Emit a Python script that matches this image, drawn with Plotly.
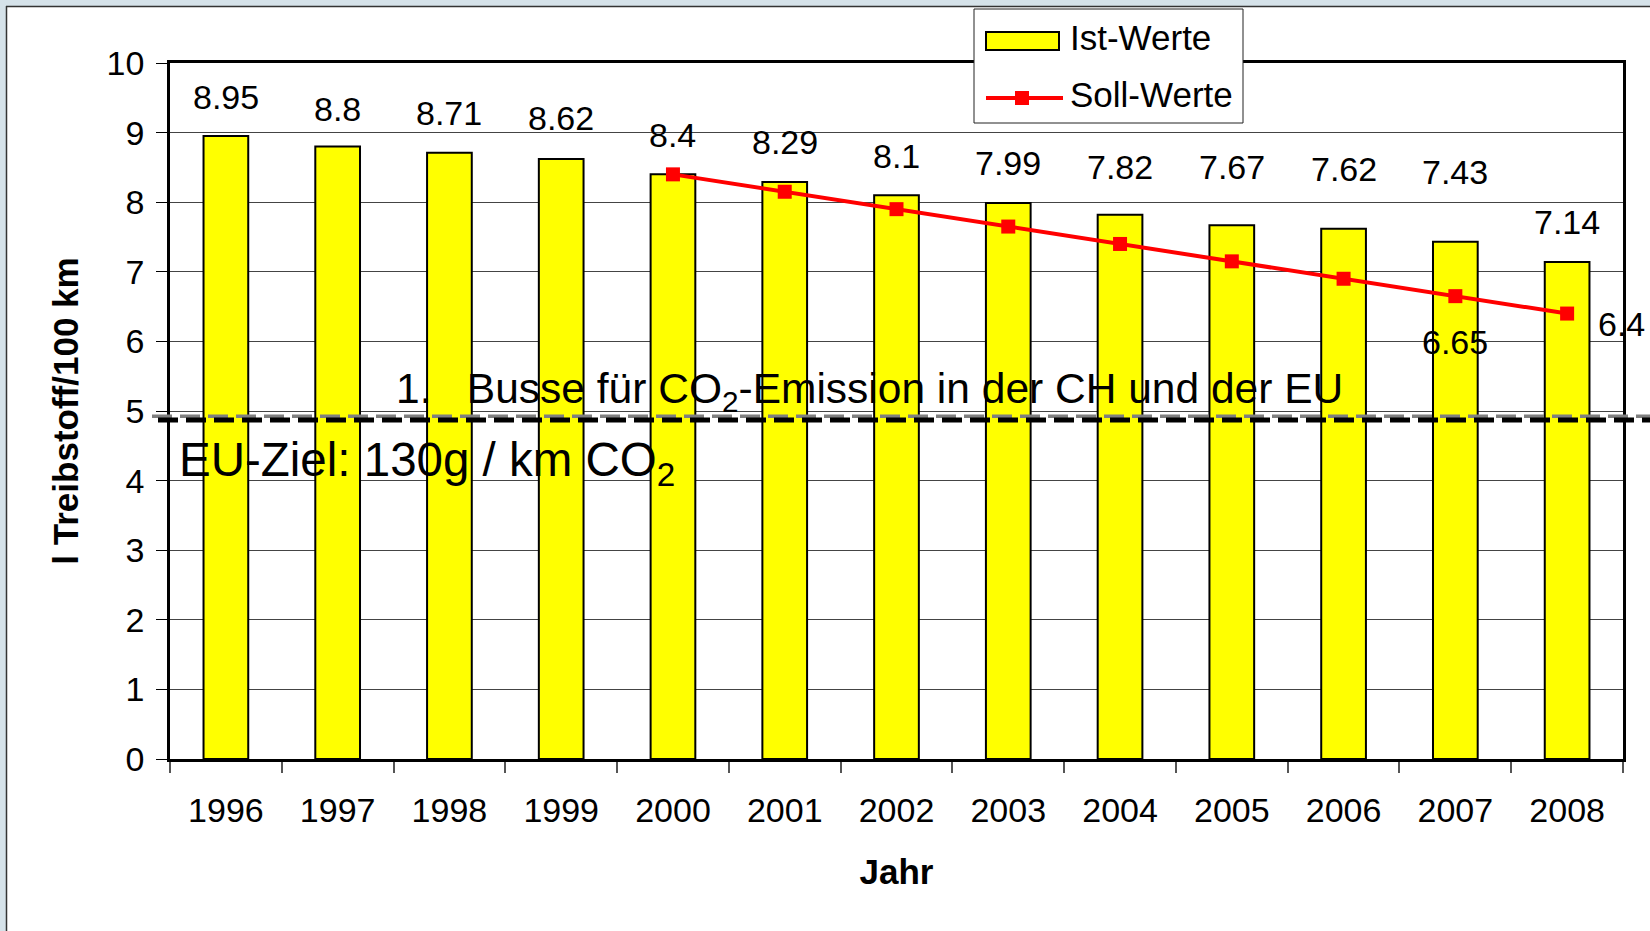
import plotly.graph_objects as go

# ---------------- data ----------------
years = ["1996", "1997", "1998", "1999", "2000", "2001", "2002",
         "2003", "2004", "2005", "2006", "2007", "2008"]
ist_werte = [8.95, 8.8, 8.71, 8.62, 8.4, 8.29, 8.1, 7.99, 7.82, 7.67, 7.62, 7.43, 7.14]
soll_years = ["2000", "2001", "2002", "2003", "2004", "2005", "2006", "2007", "2008"]
soll_werte = [8.4, 8.15, 7.9, 7.65, 7.4, 7.15, 6.9, 6.65, 6.4]
eu_ziel = 4.87          # level of the dashed target line (l/100 km)
y_ticks = [0, 1, 2, 3, 4, 5, 6, 7, 8, 9, 10]

# label offsets (pixels above the bar top)
ist_label_shift = [39, 38, 40, 41, 39, 40, 39, 40, 48, 58, 60, 70, 40]

# ---------------- geometry helpers ----------------
W, H = 1650, 931
L, R, T, B = 170, 1623, 63, 759


def px_x(px):
    return (px - L) / (R - L)


def px_y(py):
    return (B - py) / (B - T)


FONT = "Liberation Sans, Arial, sans-serif"

fig = go.Figure()

fig.add_trace(go.Bar(
    x=years, y=ist_werte, name="Ist-Werte",
    marker=dict(color="#ffff00", line=dict(color="black", width=2)),
    width=0.4, showlegend=False,
))

fig.add_trace(go.Scatter(
    x=soll_years, y=soll_werte, name="Soll-Werte", mode="lines+markers",
    line=dict(color="#ff0000", width=4),
    marker=dict(symbol="square", size=14, color="#ff0000"),
    showlegend=False,
))

annotations = []
for i, (yr, v) in enumerate(zip(years, ist_werte)):
    annotations.append(dict(
        x=years.index(yr), y=v, xref="x", yref="y", text=f"{v:g}", showarrow=False,
        yanchor="middle", xanchor="center", yshift=ist_label_shift[i],
        font=dict(family=FONT, size=34, color="black"),
    ))

# Soll labels (only the last two are visible in the original)
annotations.append(dict(
    x=years.index(soll_years[-2]), y=soll_werte[-2], xref="x", yref="y",
    text=f"{soll_werte[-2]:g}", showarrow=False, yanchor="middle",
    xanchor="center", yshift=-46,
    font=dict(family=FONT, size=34, color="black"),
))
annotations.append(dict(
    x=years.index(soll_years[-1]), y=soll_werte[-1], xref="x", yref="y",
    text=f"{soll_werte[-1]:g}", showarrow=False, yanchor="middle",
    xanchor="left", xshift=29, yshift=-10,
    font=dict(family=FONT, size=34, color="black"),
))

# text annotations inside the plot
annotations.append(dict(
    x=px_x(394), y=5.28, xref="paper", yref="y",
    text="1.\u00a0\u00a0\u00a0Busse für CO<sub>2</sub>-Emission in der CH und der EU",
    showarrow=False, xanchor="left", yanchor="middle",
    font=dict(family=FONT, size=42.5, color="black"),
))
annotations.append(dict(
    x=px_x(177), y=4.26, xref="paper", yref="y",
    text="EU-Ziel: 130g / km CO<sub>2</sub>",
    showarrow=False, xanchor="left", yanchor="middle",
    font=dict(family=FONT, size=47.5, color="black"),
))

# legend texts
annotations.append(dict(
    x=px_x(1068), y=px_y(37), xref="paper", yref="paper", text="Ist-Werte",
    showarrow=False, xanchor="left", yanchor="middle",
    font=dict(family=FONT, size=35, color="black"),
))
annotations.append(dict(
    x=px_x(1068), y=px_y(94), xref="paper", yref="paper", text="Soll-Werte",
    showarrow=False, xanchor="left", yanchor="middle",
    font=dict(family=FONT, size=35, color="black"),
))

shapes = []
# slide frame (light band + dark line on top and left)
shapes.append(dict(type="rect", xref="paper", yref="paper",
                   x0=px_x(0), x1=px_x(W), y0=px_y(6), y1=px_y(0),
                   fillcolor="#d5e2e9", line=dict(width=0), layer="above"))
shapes.append(dict(type="rect", xref="paper", yref="paper",
                   x0=px_x(0), x1=px_x(6), y0=px_y(H), y1=px_y(0),
                   fillcolor="#d5e2e9", line=dict(width=0), layer="above"))
shapes.append(dict(type="line", xref="paper", yref="paper",
                   x0=px_x(6), x1=px_x(W), y0=px_y(6.5), y1=px_y(6.5),
                   line=dict(color="#333333", width=1.5), layer="above"))
shapes.append(dict(type="line", xref="paper", yref="paper",
                   x0=px_x(6.5), x1=px_x(6.5), y0=px_y(H), y1=px_y(6),
                   line=dict(color="#333333", width=1.5), layer="above"))

# dashed EU target line (grey shadow + black)
shapes.append(dict(type="line", xref="paper", yref="y",
                   x0=px_x(152), x1=px_x(W + 10), y0=eu_ziel + 0.055, y1=eu_ziel + 0.055,
                   line=dict(color="#7f7f7f", width=3.5, dash="20px,8px"), layer="above"))
shapes.append(dict(type="line", xref="paper", yref="y",
                   x0=px_x(158), x1=px_x(W + 10), y0=eu_ziel, y1=eu_ziel,
                   line=dict(color="black", width=5, dash="20px,8px"), layer="above"))

# custom legend
shapes.append(dict(type="rect", xref="paper", yref="paper",
                   x0=px_x(974), x1=px_x(1243), y0=px_y(123), y1=px_y(9),
                   fillcolor="white", line=dict(color="#222222", width=1), layer="above"))
shapes.append(dict(type="rect", xref="paper", yref="paper",
                   x0=px_x(986), x1=px_x(1059), y0=px_y(50), y1=px_y(32),
                   fillcolor="#ffff00", line=dict(color="black", width=2), layer="above"))
shapes.append(dict(type="line", xref="paper", yref="paper",
                   x0=px_x(986), x1=px_x(1063), y0=px_y(98), y1=px_y(98),
                   line=dict(color="#ff0000", width=4), layer="above"))
shapes.append(dict(type="rect", xref="paper", yref="paper",
                   x0=px_x(1015), x1=px_x(1029), y0=px_y(105), y1=px_y(91),
                   fillcolor="#ff0000", line=dict(width=0), layer="above"))

fig.update_layout(
    width=W, height=H,
    margin=dict(l=L, r=W - R, t=T, b=H - B, pad=0),
    paper_bgcolor="white", plot_bgcolor="white",
    bargap=0.6,
    showlegend=False,
    font=dict(family=FONT, size=34, color="black"),
    annotations=annotations,
    shapes=shapes,
)

fig.update_xaxes(
    type="category", categoryorder="array", categoryarray=years,
    range=[-0.5, len(years) - 0.5], autorange=False,
    tickson="boundaries", ticks="outside", ticklen=11,
    tickcolor="#555555", tickwidth=1.5, tickangle=0,
    showline=True, linecolor="black", linewidth=2.5, mirror=True,
    showgrid=False, ticklabelstandoff=19,
    tickfont=dict(family=FONT, size=34, color="black"),
    title=dict(text="Jahr", standoff=32,
               font=dict(family=FONT, size=35, color="black", weight="bold")),
)

fig.update_yaxes(
    range=[0, 10], autorange=False, tickvals=y_ticks, ticks="outside", ticklen=11,
    tickcolor="black", tickwidth=1,
    showline=True, linecolor="black", linewidth=2.5, mirror=True,
    showgrid=True, gridcolor="#444444", gridwidth=1, zeroline=False,
    ticklabelstandoff=5,
    tickfont=dict(family=FONT, size=34, color="black"),
    title=dict(text="l Treibstoff/100 km", standoff=18,
               font=dict(family=FONT, size=35, color="black", weight="bold")),
)

fig.write_html(
    "out.html",
    config={"displayModeBar": False},
    post_script="document.body.style.margin='0';document.body.style.overflow='hidden';",
)
